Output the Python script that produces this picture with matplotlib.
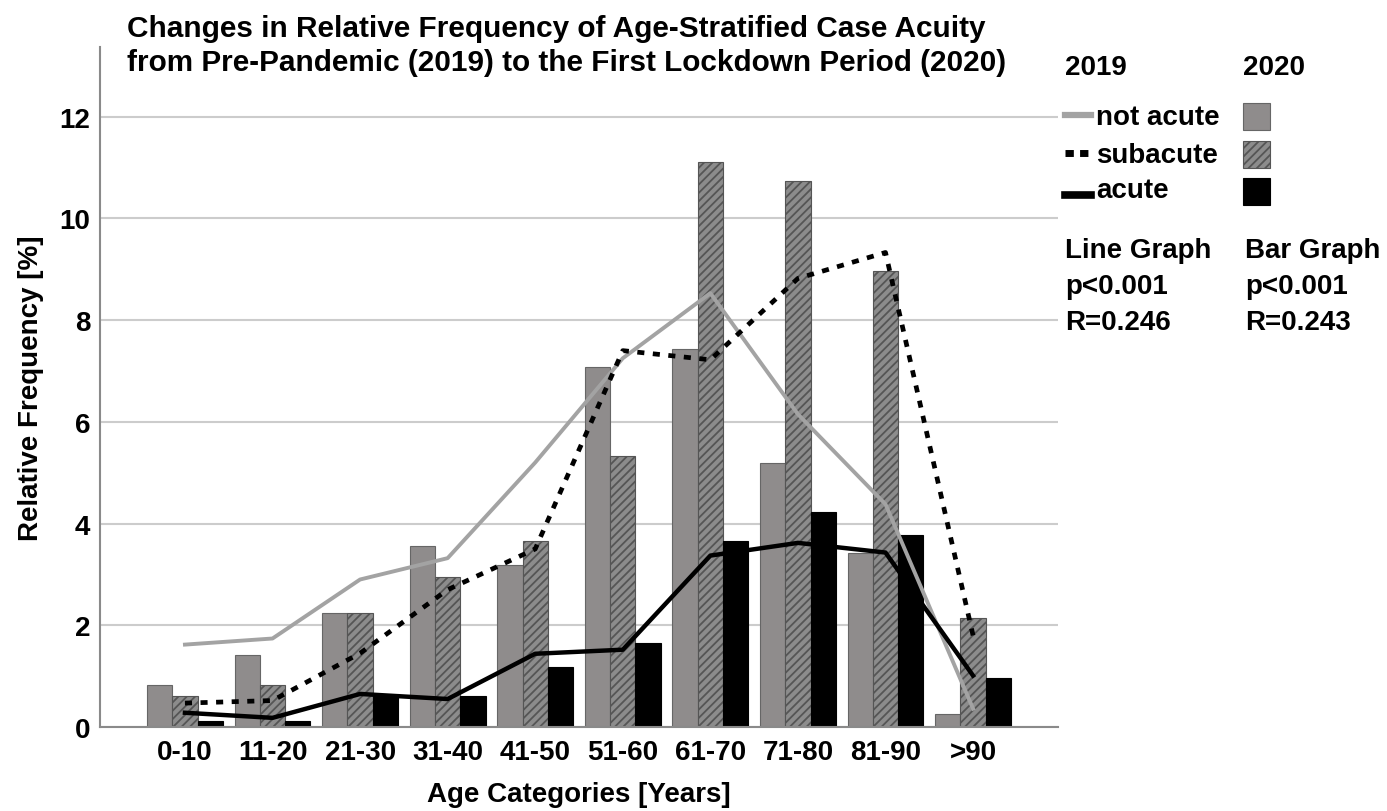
import matplotlib
matplotlib.use('Agg')
import matplotlib.pyplot as plt
import numpy as np
from matplotlib.lines import Line2D
from matplotlib.patches import Rectangle

plt.rcParams['font.family'] = ['Liberation Sans', 'DejaVu Sans']
plt.rcParams['font.weight'] = 'bold'
plt.rcParams['hatch.linewidth'] = 1.3
plt.rcParams['hatch.color'] = 'black'

# alterskategorien
categories = ['0-10', '11-20', '21-30', '31-40', '41-50', '51-60', '61-70', '71-80', '81-90', '>90']

# 2020 -> balken
bar_not_acute = [0.83, 1.41, 2.25, 3.56, 3.19, 7.07, 7.43, 5.19, 3.43, 0.25]
bar_subacute = [0.60, 0.83, 2.25, 2.95, 3.66, 5.32, 11.11, 10.74, 8.97, 2.14]
bar_acute = [0.11, 0.11, 0.60, 0.60, 1.17, 1.66, 3.65, 4.23, 3.77, 0.96]

# 2019 -> linien
line_not_acute = [1.62, 1.74, 2.90, 3.32, 5.20, 7.25, 8.53, 6.15, 4.38, 0.36]
line_subacute = [0.47, 0.52, 1.45, 2.70, 3.50, 7.40, 7.22, 8.82, 9.33, 1.80]
line_acute = [0.28, 0.18, 0.65, 0.55, 1.44, 1.52, 3.37, 3.62, 3.43, 1.01]

W, H = 1387, 812
fig = plt.figure(figsize=(W / 100, H / 100), dpi=100)
ax = fig.add_axes([100 / W, 84 / H, 958 / W, 680 / H])

def fx(px):
    return px / W

def fy(py):
    return 1 - py / H

x = np.arange(len(categories))
bw = 0.289
gray_bar = '#8f8c8c'
gray_line = '#a3a3a3'

ax.bar(x - bw, bar_not_acute, bw, color=gray_bar, edgecolor='#666666', linewidth=0.8, zorder=2)
ax.bar(x, bar_subacute, bw, color='#8c8c8c', edgecolor='#555555', linewidth=0.8, hatch='////', zorder=2)
ax.bar(x + bw, bar_acute, bw, color='black', edgecolor='black', linewidth=0.8, zorder=2)

ax.plot(x, line_not_acute, color=gray_line, lw=2.8, zorder=3)
ax.plot(x, line_subacute, color='black', lw=3.4, linestyle=(0, (1.5, 1.8)), zorder=4)
ax.plot(x, line_acute, color='black', lw=3.2, zorder=5)

ax.set_xlim(-0.97, 9.97)
ax.set_ylim(0, 13.37)
ax.set_yticks(np.arange(0, 13, 2))
ax.set_xticks(x)
ax.set_xticklabels(categories)
ax.tick_params(axis='both', length=0, labelsize=20)
ax.tick_params(axis='x', pad=9)
ax.tick_params(axis='y', pad=7)
ax.yaxis.grid(True, color='#cccccc', lw=1.5, zorder=0)
ax.set_axisbelow(True)
for s in ['top', 'right']:
    ax.spines[s].set_visible(False)
for s in ['left', 'bottom']:
    ax.spines[s].set_color('#8a8a8a')
    ax.spines[s].set_linewidth(1.5)

ax.set_xlabel('Age Categories [Years]', fontsize=20, fontweight='bold', labelpad=11)
ax.set_ylabel('Relative Frequency [%]', fontsize=20, fontweight='bold', labelpad=11)

# titel
fig.text(fx(127), fy(37), 'Changes in Relative Frequency of Age-Stratified Case Acuity',
         fontsize=21.4, fontweight='bold', ha='left', va='baseline')
fig.text(fx(127), fy(71), 'from Pre-Pandemic (2019) to the First Lockdown Period (2020)',
         fontsize=21.4, fontweight='bold', ha='left', va='baseline')

# legende rechts
fs = 20
fig.text(fx(1065), fy(75), '2019', fontsize=fs, fontweight='bold', va='baseline')
fig.text(fx(1243), fy(75), '2020', fontsize=fs, fontweight='bold', va='baseline')

fig.add_artist(Line2D([fx(1065), fx(1091)], [fy(116), fy(116)], color=gray_line, lw=4.5))
fig.add_artist(Line2D([fx(1065), fx(1091)], [fy(154), fy(154)], color='black', lw=5,
                      linestyle=(0, (1.2, 0.9))))
fig.add_artist(Line2D([fx(1065), fx(1091)], [fy(196), fy(196)], color='black', lw=5.5))
fig.text(fx(1096), fy(125), 'not acute', fontsize=fs, fontweight='bold', va='baseline')
fig.text(fx(1096), fy(163), 'subacute', fontsize=fs, fontweight='bold', va='baseline')
fig.text(fx(1096), fy(198), 'acute', fontsize=fs, fontweight='bold', va='baseline')

sq = 27
fig.add_artist(Rectangle((fx(1243), fy(131)), sq / W, sq / H, transform=fig.transFigure,
                         facecolor=gray_bar, edgecolor='#666666', lw=0.8))
fig.add_artist(Rectangle((fx(1243), fy(169)), sq / W, sq / H, transform=fig.transFigure,
                         facecolor='#8c8c8c', edgecolor='#555555', lw=0.8, hatch='////'))
fig.add_artist(Rectangle((fx(1243), fy(206)), sq / W, sq / H, transform=fig.transFigure,
                         facecolor='black', edgecolor='black', lw=0.8))

fig.text(fx(1065), fy(258), 'Line Graph', fontsize=fs, fontweight='bold', va='baseline')
fig.text(fx(1065), fy(294), 'p<0.001', fontsize=fs, fontweight='bold', va='baseline')
fig.text(fx(1065), fy(330), 'R=0.246', fontsize=fs, fontweight='bold', va='baseline')
fig.text(fx(1245), fy(258), 'Bar Graph', fontsize=fs, fontweight='bold', va='baseline')
fig.text(fx(1245), fy(294), 'p<0.001', fontsize=fs, fontweight='bold', va='baseline')
fig.text(fx(1245), fy(330), 'R=0.243', fontsize=fs, fontweight='bold', va='baseline')

fig.savefig('out.png', dpi=100)
